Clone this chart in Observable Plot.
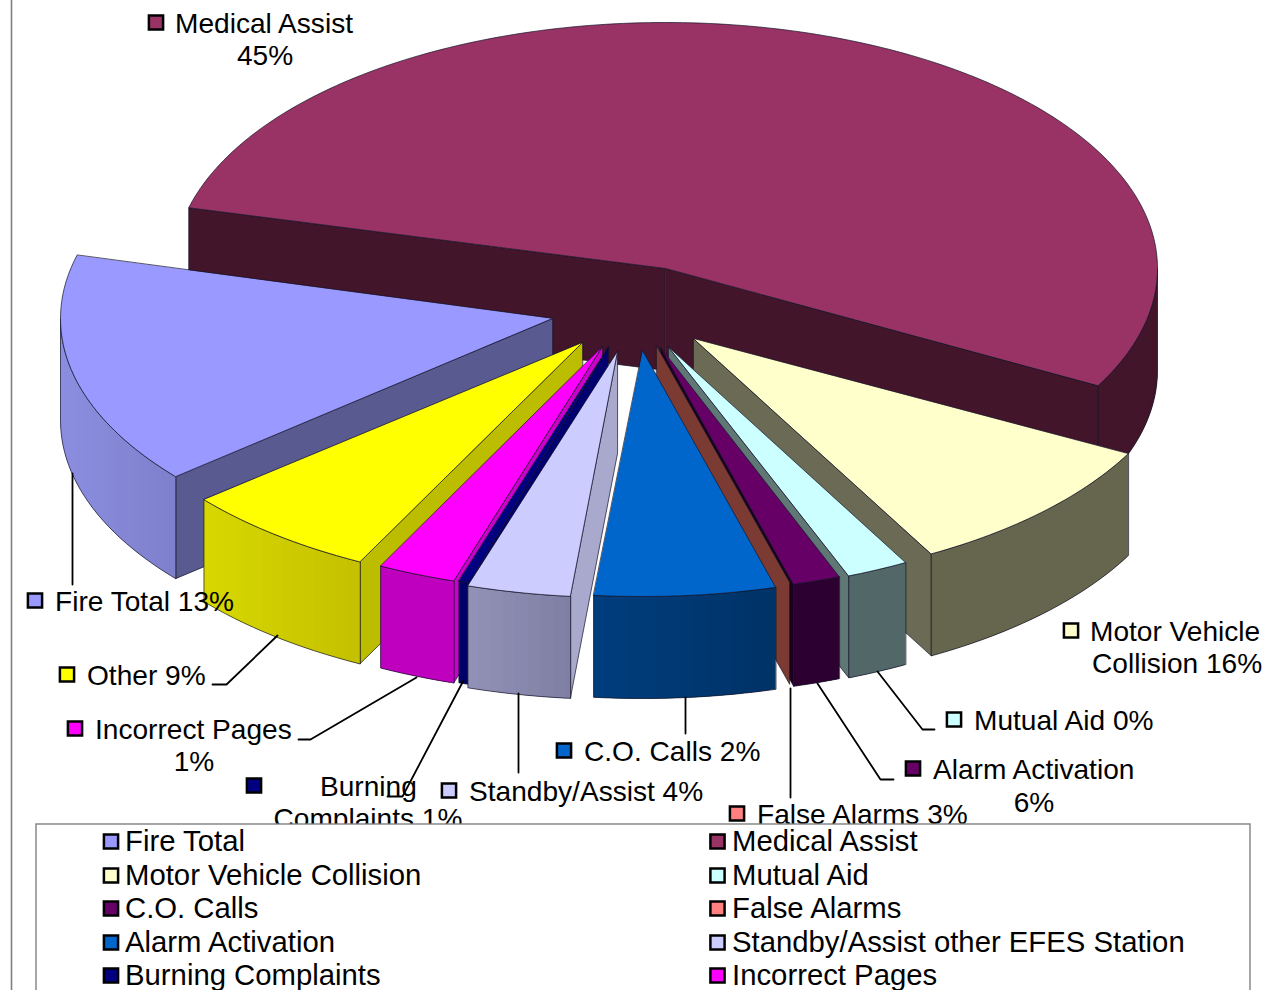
<!DOCTYPE html>
<html>
<head>
<meta charset="utf-8">
<style>
html,body{margin:0;padding:0;background:#fff;width:1274px;height:990px;overflow:hidden}
svg{display:block;max-width:none}
</style>
<script src="https://cdn.jsdelivr.net/npm/d3@7"></script>
<script src="https://cdn.jsdelivr.net/npm/@observablehq/plot@0.6"></script>
</head>
<body>
<div id="chart"></div>
<script>
// ---- data ----
const categories = ["Fire Total","Medical Assist","Motor Vehicle Collision","Mutual Aid","C.O. Calls","False Alarms","Alarm Activation","Standby/Assist other EFES Station","Burning Complaints","Incorrect Pages","Other"];
const shares     = [13,45,16,0,2,3,6,4,1,1,9];
// rim angle of each exploded wedge as drawn (degrees clockwise from 3 o'clock on the tilted disc)
const rimStart   = [140,194.3,27.9,61.2,68.7,74.3,74.3,95.5,106.4,107.6,116.9];
const rimEnd     = [194.9,388.4,61.1,68.5,74.3,74.3,95.7,107.7,107.7,116.8,140.3];
const rimOf = Object.fromEntries(categories.map((k,i)=>[k,[rimStart[i],rimEnd[i]]]));

// ---- drawing layout ----
const W = 1274, H = 990;
const RX = 492, RY = 246, DEPTH = 102;
const wedges = [
  {k:"Medical Assist",    hub:[665,268],   top:"#993366", wall:["#42152a","#42152a"], cut:"#42152a", sides:["start","end"]},
  {k:"Motor Vehicle Collision", hub:[693,338], top:"#FFFFCC", wall:["#66664e","#66664e"], cut:"#6b6b55", sides:["end"]},
  {k:"Fire Total",        hub:[552,318],   top:"#9999FF", wall:["#7f80cc","#8b8ee0"], cut:"#585a90", sides:["start"]},
  {k:"Other",             hub:[582,342],   top:"#FFFF00", wall:["#c4c000","#d8d800"], cut:"#bdbd00", sides:["start"]},
  {k:"Mutual Aid",        hub:[668,346.5], top:"#CCFFFF", wall:["#526868","#526868"], cut:"#5f7775", sides:["end"]},
  {k:"C.O. Calls",        hub:[660,347],   top:"#660066", wall:["#2c0030","#2c0030"], cut:"#1c0020", sides:["end"]},
  {k:"False Alarms",      hub:[656,345],   top:"#FF8080", wall:["#7b3b33","#7b3b33"], cut:"#7b3b33", sides:["end"]},
  {k:"Alarm Activation",  hub:[642,350],   top:"#0066CC", wall:["#003366","#003d7e"], cut:"#003366", sides:[]},
  {k:"Incorrect Pages",   hub:[602,346],   top:"#FF00FF", wall:["#bf00bf","#bf00bf"], cut:"#cc00cc", sides:["start"]},
  {k:"Burning Complaints",hub:[608,346],   top:"#000080", wall:["#000066","#000066"], cut:"#00006e", sides:["start"]},
  {k:"Standby/Assist other EFES Station", hub:[617,351], top:"#CCCCFF", wall:["#7f7fa4","#9292b8"], cut:"#a8a9cc", sides:["start"]}
];
const EDGE = "rgba(20,20,40,0.7)";

const polys = [];
let pid = 0;
function poly(pts, fill, stroke, sw){
  const id = pid++;
  pts.forEach(p => polys.push({id, x:p[0], y:p[1], fill, stroke, sw}));
}
const rim = (w,t,dy=0) => [w.hub[0]+RX*Math.cos(t*Math.PI/180), w.hub[1]+RY*Math.sin(t*Math.PI/180)+dy];
function anglesBetween(a,b,step=1.5){
  const out=[a];
  for(let t=Math.ceil(a/step)*step;t<b;t+=step) if(t>a) out.push(t);
  if(b>a) out.push(b);
  return out;
}
for(const w of wedges){
  const [a,b] = rimOf[w.k];
  // cut faces
  for(const s of w.sides){
    const t = s==="start"?a:b;
    poly([w.hub,rim(w,t),rim(w,t,DEPTH),[w.hub[0],w.hub[1]+DEPTH]], w.cut, EDGE, 1);
  }
  // outer wall, only where the rim faces the viewer
  let ts = anglesBetween(a,b).filter(t=>Math.sin(t*Math.PI/180)>=-1e-6);
  if(b>360) ts = anglesBetween(360,b);
  if(ts.length>1){
    const xs = ts.map(t=>rim(w,t)[0]);
    const x0=Math.min(...xs), x1=Math.max(...xs);
    const shade=d3.interpolateRgb(w.wall[1],w.wall[0]);
    // strips overlap the next one so no seam of background shows between them
    for(let i=0;i<ts.length-1;i++){
      const j=Math.min(i+2,ts.length-1);
      const col=shade(((xs[i]+xs[i+1])/2-x0)/Math.max(1,x1-x0));
      const seg=ts.slice(i,j+1);
      poly([...seg.map(t=>rim(w,t)),...seg.slice().reverse().map(t=>rim(w,t,DEPTH))],col,"none",0);
    }
    poly([...ts.map(t=>rim(w,t)),...ts.slice().reverse().map(t=>rim(w,t,DEPTH))],"none",EDGE,1);
  }
  // top face
  if(b>a) poly([w.hub,...anglesBetween(a,b,1).map(t=>rim(w,t))],w.top,EDGE,1);
}

// leader lines
const leaders = [
  [[72,473],[72,584]],
  [[277,635],[226,684],[212,684]],
  [[416,677],[310,739],[298,739]],
  [[463,680],[402,796],[387,796]],
  [[518,693],[518,772]],
  [[685,697],[685,733]],
  [[790,688],[790,797]],
  [[817,683],[880,779],[893,779]],
  [[877,671],[922,729],[934,729]]
];
const leaderRows = leaders.flatMap((l,i)=>l.map(p=>({i,x:p[0],y:p[1]})));

// data labels
const labelMarkers = [
  {k:"Medical Assist",x:155.5,y:22},{k:"Motor Vehicle Collision",x:1070.5,y:630},{k:"Mutual Aid",x:953.5,y:719},
  {k:"C.O. Calls",x:912.5,y:768},{k:"False Alarms",x:736.5,y:813},{k:"Alarm Activation",x:563.5,y:750},
  {k:"Standby/Assist other EFES Station",x:448.5,y:790},{k:"Burning Complaints",x:253.5,y:785},
  {k:"Incorrect Pages",x:74.5,y:728},{k:"Other",x:66.5,y:674},{k:"Fire Total",x:34.5,y:600}
];
const labelRows = [
  {s:"Medical Assist",x:174.5,y:23.3,a:"start"},{s:"45%",x:264.5,y:55.3,a:"middle"},
  {s:"Motor Vehicle",x:1089.5,y:631.3,a:"start"},{s:"Collision 16%",x:1091.5,y:663.3,a:"start"},
  {s:"Mutual Aid 0%",x:973.5,y:720.3,a:"start"},
  {s:"Alarm Activation",x:932.5,y:769.3,a:"start"},{s:"6%",x:1033.5,y:802.3,a:"middle"},
  {s:"False Alarms 3%",x:756.5,y:814.3,a:"start"},
  {s:"C.O. Calls 2%",x:583.5,y:751.3,a:"start"},
  {s:"Standby/Assist 4%",x:468.5,y:791.3,a:"start"},
  {s:"Burning",x:319.5,y:786.3,a:"start"},{s:"Complaints 1%",x:367.5,y:818.3,a:"middle"},
  {s:"Incorrect Pages",x:94.5,y:729.3,a:"start"},{s:"1%",x:193.5,y:761.3,a:"middle"},
  {s:"Other 9%",x:86.5,y:675.3,a:"start"},
  {s:"Fire Total 13%",x:54.5,y:601.3,a:"start"}
];
// legend
const legendOrder = ["Fire Total","Medical Assist","Motor Vehicle Collision","Mutual Aid","C.O. Calls","False Alarms","Alarm Activation","Standby/Assist other EFES Station","Burning Complaints","Incorrect Pages"];
const legendRowY = [841,875,908,942,975];
const colorOf = Object.fromEntries(wedges.map(w=>[w.k,w.top]));
const legendRows = legendOrder.map((k,i)=>({k,col:colorOf[k],mx:i%2?717:110.5,tx:i%2?731.5:124.5,y:legendRowY[Math.floor(i/2)]}));
const legendTextRows = legendRows.map(d=>({...d,y:d.y+0.5}));
const FONT = "Liberation Sans, Arial, sans-serif";

const chart = Plot.plot({
  width:W,height:H,margin:0,
  x:{domain:[0,W],range:[0,W],axis:null},
  y:{domain:[0,H],range:[0,H],axis:null},
  color:{type:"identity"},
  style:{background:"#fff"},
  marks:[
    Plot.ruleX([11],{stroke:"#808080",strokeWidth:1.6}),
    Plot.line(polys,{x:"x",y:"y",z:"id",fill:"fill",stroke:"stroke",strokeWidth:"sw",curve:"linear-closed",strokeLinejoin:"round"}),
    Plot.line(leaderRows,{x:"x",y:"y",z:"i",stroke:"#000",strokeWidth:1.8,strokeLinejoin:"miter"}),
    Plot.dot(labelMarkers,{x:"x",y:"y",symbol:"square",r:8,fill:d=>colorOf[d.k],stroke:"#000",strokeWidth:2.5}),
    Plot.text(labelRows,{x:"x",y:"y",text:"s",textAnchor:"start",filter:d=>d.a==="start",fontSize:28.1,fontFamily:FONT,fill:"#000"}),
    Plot.text(labelRows,{x:"x",y:"y",text:"s",textAnchor:"middle",filter:d=>d.a==="middle",fontSize:28.1,fontFamily:FONT,fill:"#000"}),
    Plot.rect([{}],{x1:()=>36,x2:()=>1250,y1:()=>824,y2:()=>1000,fill:"#fff",stroke:"#808080",strokeWidth:1.4}),
    Plot.dot(legendRows,{x:"mx",y:"y",symbol:"square",r:8,fill:"col",stroke:"#000",strokeWidth:2.5}),
    Plot.text(legendTextRows,{x:"tx",y:"y",text:"k",textAnchor:"start",fontSize:29.3,fontFamily:FONT,fill:"#000"})
  ]
});
document.getElementById("chart").appendChild(chart);
</script>
</body>
</html>
